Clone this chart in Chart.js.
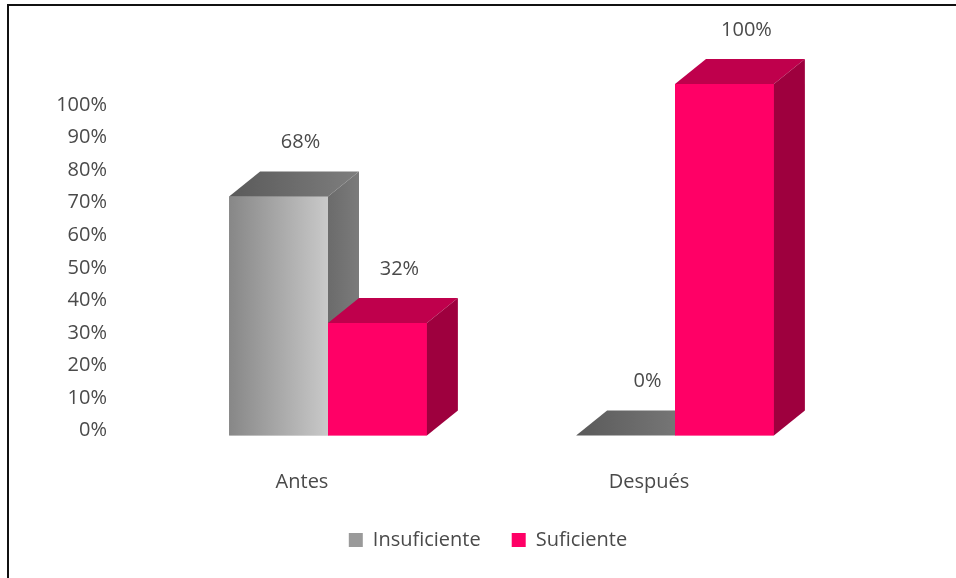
<!DOCTYPE html>
<html>
<head>
<meta charset="utf-8">
<script src="https://cdn.jsdelivr.net/npm/chart.js@4.4.1/dist/chart.umd.min.js"></script>
<style>
  body { margin: 0; background: #fff; }
  #frame {
    position: absolute; left: 7px; top: 4px;
    width: 947px; height: 572px;
    border-left: 2px solid #111; border-top: 2px solid #111;
    background: #fff;
  }
  canvas { display: block; }
</style>
</head>
<body>
<div id="frame"><canvas id="chart" width="947" height="572"></canvas></div>
<script>
const categories = ['Antes', 'Después'];
const insuficiente = [68, 0];
const suficiente = [32, 100];
const seriesNames = ['Insuficiente', 'Suficiente'];
const yTickValues = [0, 10, 20, 30, 40, 50, 60, 70, 80, 90, 100];

const textColor = '#4a4a4a';
const font = { family: 'Open Sans', size: 20 };

// 3D look: depth of the box and colours for each face
const depth = { x: 31, y: 25 };
const faces = [
    { front: ['#878787', '#c9c9c9'], top: ['#5a5a5a', '#7e7e7e'], side: ['#6b6b6b', '#7b7b7b'] },
    { front: ['#ff0066', '#ff0066'], top: ['#bf004c', '#bf004c'], side: ['#9e003e', '#9e003e'] }
];

function fillPoly(ctx, pts, fill) {
    ctx.beginPath();
    ctx.moveTo(pts[0][0], pts[0][1]);
    for (let i = 1; i < pts.length; i++) ctx.lineTo(pts[i][0], pts[i][1]);
    ctx.closePath();
    ctx.fillStyle = fill;
    ctx.fill();
}

function hGrad(ctx, x0, x1, stops) {
    const g = ctx.createLinearGradient(x0, 0, x1, 0);
    g.addColorStop(0, stops[0]);
    g.addColorStop(1, stops[1]);
    return g;
}

// draws the boxes series by series (left bar first) so the nearer one covers the other's side
const bars3d = {
    id: 'bars3d',
    afterDatasetsDraw(chart) {
        const ctx = chart.ctx;
        ctx.save();
        chart.data.datasets.forEach((ds, di) => {
            const f = faces[di];
            chart.getDatasetMeta(di).data.forEach((bar) => {
                const { x, y, base, width } = bar.getProps(['x', 'y', 'base', 'width'], true);
                const l = x - width / 2;
                const r = x + width / 2;
                const h = base - y;
                if (h > 0) {
                    ctx.fillStyle = hGrad(ctx, l, r, f.front);
                    ctx.fillRect(l, y, width, h);
                }
                fillPoly(ctx, [[l, y], [r, y], [r + depth.x, y - depth.y], [l + depth.x, y - depth.y]],
                    hGrad(ctx, l, r + depth.x, f.top));
                if (h > 0) {
                    fillPoly(ctx, [[r, y], [r + depth.x, y - depth.y], [r + depth.x, base - depth.y], [r, base]],
                        hGrad(ctx, r, r + depth.x, f.side));
                }
            });
        });

        ctx.font = font.size + 'px "' + font.family + '", sans-serif';
        ctx.fillStyle = textColor;
        ctx.textAlign = 'center';
        ctx.textBaseline = 'middle';
        chart.data.datasets.forEach((ds, di) => {
            chart.getDatasetMeta(di).data.forEach((bar, i) => {
                const { x, y } = bar.getProps(['x', 'y'], true);
                ctx.fillText(ds.data[i] + '%', x + 22, y - depth.y - 29);
            });
        });
        ctx.restore();
    }
};

new Chart(document.getElementById('chart'), {
    type: 'bar',
    data: {
        labels: categories,
        datasets: [
            { label: seriesNames[0], data: insuficiente, backgroundColor: '#9a9a9a', borderWidth: 0 },
            { label: seriesNames[1], data: suficiente, backgroundColor: '#ff0066', borderWidth: 0 }
        ]
    },
    options: {
        responsive: false,
        animation: false,
        devicePixelRatio: 1,
        categoryPercentage: 0.57,
        barPercentage: 1,
        layout: { padding: { left: 11, right: 0, top: 78, bottom: 18 } },
        scales: {
            x: {
                grid: { display: false, drawTicks: false },
                border: { display: false },
                ticks: { color: textColor, font: font, padding: 35, labelOffset: -26 },
                afterFit(scale) { scale.height = 63.5; }
            },
            y: { display: false, min: 0, max: 100 },
            // the value labels sit on the back wall, a little apart from the bars' own scale
            yLabels: {
                position: 'left',
                min: -1.5,
                max: 106.5,
                grid: { display: false, drawTicks: false },
                border: { display: false },
                afterBuildTicks(scale) { scale.ticks = yTickValues.map(v => ({ value: v })); },
                ticks: { color: textColor, font: font, padding: 47.5, callback: (v) => v + '%' },
                afterFit(scale) { scale.width = 134.5; }
            },
            rightSpace: {
                position: 'right',
                grid: { display: false, drawTicks: false },
                border: { display: false },
                ticks: { display: false },
                afterFit(scale) { scale.width = 107.5; }
            }
        },
        plugins: {
            legend: {
                position: 'bottom',
                labels: {
                    boxWidth: 14,
                    boxHeight: 14,
                    padding: 31,
                    color: textColor,
                    font: font
                }
            },
            tooltip: { enabled: false }
        }
    },
    plugins: [bars3d]
});
</script>
</body>
</html>
